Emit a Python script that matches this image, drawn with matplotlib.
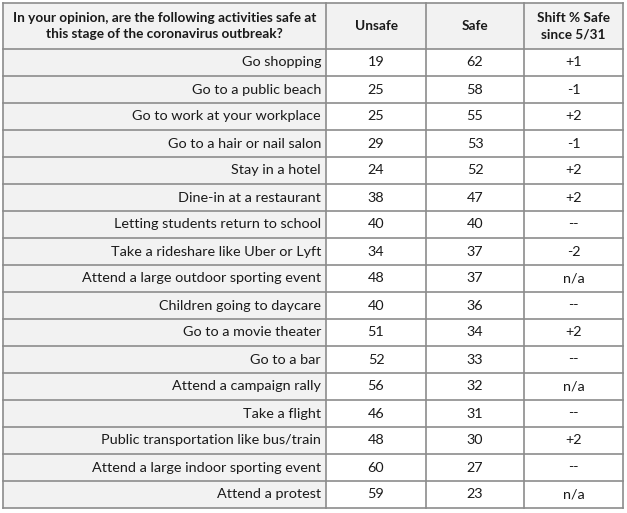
import matplotlib.pyplot as plt
from matplotlib.patches import Rectangle

# survey table: activity, % unsafe, % safe, shift in % safe since 5/31
activities = [
    "Go shopping", "Go to a public beach", "Go to work at your workplace",
    "Go to a hair or nail salon", "Stay in a hotel", "Dine-in at a restaurant",
    "Letting students return to school", "Take a rideshare like Uber or Lyft",
    "Attend a large outdoor sporting event", "Children going to daycare",
    "Go to a movie theater", "Go to a bar", "Attend a campaign rally",
    "Take a flight", "Public transportation like bus/train",
    "Attend a large indoor sporting event", "Attend a protest",
]
unsafe = [19, 25, 25, 29, 24, 38, 40, 34, 48, 40, 51, 52, 56, 46, 48, 60, 59]
safe = [62, 58, 55, 53, 52, 47, 40, 37, 37, 36, 34, 33, 32, 31, 30, 27, 23]
shift = ["+1", "-1", "+2", "-1", "+2", "+2", "--", "-2", "n/a", "--",
         "+2", "--", "n/a", "--", "+2", "--", "n/a"]
headers = ["In your opinion, are the following activities safe at\nthis stage of the coronavirus outbreak?",
           "Unsafe", "Safe", "Shift % Safe\nsince 5/31"]

W, H = 627, 513
fig = plt.figure(figsize=(W / 100, H / 100), dpi=100)
ax = fig.add_axes([0, 0, 1, 1])
ax.set_xlim(0, W)
ax.set_ylim(H, 0)
ax.axis('off')

col_x = [3, 326, 426, 524, 623]
top, head_bot = 3, 49
row_h = (508 - head_bot) / len(activities)
grid = '#8c8c8c'
fill = '#f2f2f2'
txt = '#1a1a1a'

# grey header row and grey first column
ax.add_patch(Rectangle((col_x[0], top), col_x[-1] - col_x[0], head_bot - top, fc=fill, ec='none'))
ax.add_patch(Rectangle((col_x[0], head_bot), col_x[1] - col_x[0], row_h * len(activities), fc=fill, ec='none'))

bottom = head_bot + row_h * len(activities)
for x in col_x:
    ax.plot([x, x], [top, bottom], color=grid, lw=1.2, solid_capstyle='projecting')
ys = [top, head_bot] + [head_bot + row_h * (i + 1) for i in range(len(activities))]
for y in ys:
    ax.plot([col_x[0], col_x[-1]], [y, y], color=grid, lw=1.2, solid_capstyle='projecting')

hy = (top + head_bot) / 2
for i, h in enumerate(headers):
    cx = (col_x[i] + col_x[i + 1]) / 2
    ax.text(cx, hy, h, ha='center', va='center', fontsize=9.8, fontweight='bold',
            family='Lato', color=txt, linespacing=1.5)

for r, (a, u, s, d) in enumerate(zip(activities, unsafe, safe, shift)):
    cy = head_bot + row_h * (r + 0.5)
    ax.text(col_x[1] - 5, cy, a, ha='right', va='center', fontsize=10.4, family='Lato', color=txt)
    for c, v in enumerate([str(u), str(s), d]):
        cx = (col_x[c + 1] + col_x[c + 2]) / 2
        ax.text(cx, cy, v, ha='center', va='center', fontsize=10.4, family='Lato', color=txt)

fig.savefig('out.png', dpi=100, facecolor='white')
